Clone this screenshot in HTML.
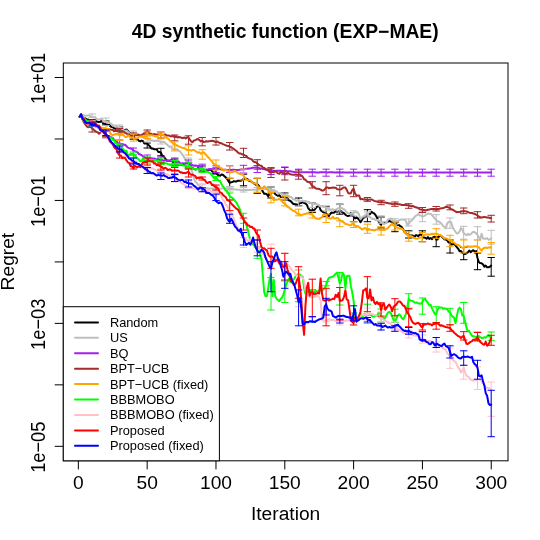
<!DOCTYPE html>
<html><head><meta charset="utf-8"><title>4D synthetic function (EXP-MAE)</title>
<style>
html,body{margin:0;padding:0;background:#fff;}
body{width:540px;height:540px;overflow:hidden;position:relative;font-family:"Liberation Sans",sans-serif;}
.t{font-family:"Liberation Sans",sans-serif;fill:#000;}
</style></head><body>
<svg width="540" height="540" viewBox="0 0 540 540" style="position:absolute;left:0;top:0;will-change:transform">
<rect x="0" y="0" width="540" height="540" fill="#fff"/>
<clipPath id="c"><rect x="63.3" y="63.0" width="444.7" height="397.8"/></clipPath>
<g clip-path="url(#c)" fill="none" stroke-linejoin="round" stroke-linecap="round">
<path d="M79.7 116.7 L81.1 114.4 L82.5 117.1 L83.9 118.3 L85.2 118.2 L86.6 119.2 L88.0 119.5 L89.4 121.2 L90.7 120.6 L92.1 121.6 L93.5 122.0 L94.9 122.1 L96.2 121.3 L97.6 121.8 L99.0 122.0 L100.4 121.7 L101.7 120.6 L103.1 123.5 L104.5 123.5 L105.9 124.7 L107.3 125.3 L108.6 123.9 L110.0 125.9 L111.4 126.9 L112.8 127.3 L114.1 128.3 L115.5 128.7 L116.9 129.1 L118.3 129.1 L119.6 129.4 L121.0 128.8 L122.4 129.8 L123.8 130.1 L125.1 129.9 L126.5 129.6 L127.9 130.9 L129.3 132.7 L130.6 133.0 L132.0 135.1 L133.4 135.9 L134.8 138.5 L136.2 139.2 L137.5 139.2 L138.9 140.8 L140.3 141.4 L141.7 140.6 L143.0 141.1 L144.4 143.4 L145.8 143.6 L147.2 143.5 L148.5 145.1 L149.9 146.3 L151.3 148.5 L152.7 148.5 L154.0 149.2 L155.4 149.2 L156.8 149.2 L158.2 151.9 L159.6 152.0 L160.9 152.7 L162.3 156.0 L163.7 156.7 L165.1 158.3 L166.4 160.6 L167.8 160.4 L169.2 160.9 L170.6 160.3 L171.9 160.5 L173.3 162.4 L174.7 162.1 L176.1 163.3 L177.4 163.4 L178.8 164.5 L180.2 164.2 L181.6 165.0 L182.9 164.3 L184.3 165.1 L185.7 165.6 L187.1 166.5 L188.5 167.4 L189.8 166.3 L191.2 168.0 L192.6 168.1 L194.0 168.8 L195.3 169.4 L196.7 169.3 L198.1 168.1 L199.5 168.8 L200.8 169.3 L202.2 170.2 L203.6 170.4 L205.0 170.4 L206.3 169.8 L207.7 170.0 L209.1 169.8 L210.5 169.8 L211.9 170.7 L213.2 173.1 L214.6 172.5 L216.0 172.7 L217.4 174.4 L218.7 175.8 L220.1 175.7 L221.5 174.5 L222.9 174.7 L224.2 176.0 L225.6 177.2 L227.0 178.7 L228.4 181.1 L229.7 183.0 L231.1 182.2 L232.5 182.0 L233.9 181.1 L235.2 181.6 L236.6 181.4 L238.0 180.7 L239.4 180.7 L240.8 180.8 L242.1 180.0 L243.5 179.0 L244.9 179.0 L246.3 178.8 L247.6 179.3 L249.0 180.8 L250.4 180.9 L251.8 182.1 L253.1 182.8 L254.5 183.6 L255.9 184.7 L257.3 184.2 L258.6 185.4 L260.0 188.0 L261.4 189.4 L262.8 191.4 L264.2 193.8 L265.5 193.7 L266.9 194.4 L268.3 196.4 L269.7 193.0 L271.0 193.1 L272.4 192.0 L273.8 192.2 L275.2 193.9 L276.5 195.0 L277.9 195.8 L279.3 195.1 L280.7 196.9 L282.0 196.7 L283.4 196.2 L284.8 197.7 L286.2 197.5 L287.5 198.1 L288.9 200.6 L290.3 200.8 L291.7 202.2 L293.1 203.7 L294.4 204.2 L295.8 204.3 L297.2 204.8 L298.6 204.4 L299.9 203.1 L301.3 203.0 L302.7 201.9 L304.1 203.0 L305.4 203.4 L306.8 204.7 L308.2 208.1 L309.6 209.9 L310.9 210.8 L312.3 210.0 L313.7 210.3 L315.1 209.2 L316.4 207.3 L317.8 206.3 L319.2 205.8 L320.6 210.3 L322.0 211.3 L323.3 212.1 L324.7 213.0 L326.1 214.0 L327.5 214.4 L328.8 215.7 L330.2 214.0 L331.6 212.5 L333.0 212.9 L334.3 212.5 L335.7 211.0 L337.1 211.8 L338.5 211.4 L339.8 210.7 L341.2 210.9 L342.6 212.6 L344.0 213.1 L345.4 214.7 L346.7 215.6 L348.1 216.0 L349.5 215.6 L350.9 215.6 L352.2 215.4 L353.6 216.6 L355.0 218.4 L356.4 217.2 L357.7 218.3 L359.1 219.8 L360.5 222.2 L361.9 220.0 L363.2 217.5 L364.6 217.4 L366.0 216.5 L367.4 216.3 L368.7 214.7 L370.1 214.0 L371.5 211.7 L372.9 212.8 L374.3 213.5 L375.6 215.2 L377.0 217.5 L378.4 220.9 L379.8 223.6 L381.1 224.4 L382.5 222.8 L383.9 222.7 L385.3 222.7 L386.6 222.4 L388.0 221.5 L389.4 221.0 L390.8 221.6 L392.1 222.2 L393.5 222.5 L394.9 223.9 L396.3 224.0 L397.7 225.0 L399.0 225.1 L400.4 226.2 L401.8 227.1 L403.2 229.6 L404.5 231.9 L405.9 233.3 L407.3 234.4 L408.7 235.2 L410.0 235.4 L411.4 235.6 L412.8 235.6 L414.2 237.7 L415.5 235.3 L416.9 235.3 L418.3 236.1 L419.7 234.6 L421.0 234.7 L422.4 235.5 L423.8 237.6 L425.2 237.7 L426.6 238.8 L427.9 237.1 L429.3 238.9 L430.7 238.0 L432.1 239.2 L433.4 237.6 L434.8 236.7 L436.2 239.6 L437.6 239.5 L438.9 236.2 L440.3 235.4 L441.7 236.6 L443.1 237.9 L444.4 239.2 L445.8 239.6 L447.2 240.4 L448.6 242.4 L450.0 242.6 L451.3 244.4 L452.7 244.2 L454.1 244.1 L455.5 245.3 L456.8 247.1 L458.2 248.8 L459.6 251.3 L461.0 251.0 L462.3 252.8 L463.7 253.8 L465.1 254.1 L466.5 253.1 L467.8 252.3 L469.2 250.5 L470.6 252.2 L472.0 251.0 L473.3 250.2 L474.7 251.6 L476.1 251.1 L477.5 258.0 L478.9 262.2 L480.2 263.1 L481.6 263.2 L483.0 264.4 L484.4 266.6 L485.7 265.6 L487.1 267.3 L488.5 267.3 L489.9 266.8 L491.2 265.6" stroke="#000000" stroke-width="2.00"/>
<path d="M160.9 148.3 V155.8 M157.6 148.3 H164.2 M157.6 155.8 H164.2 M229.7 178.3 V186.7 M226.4 178.3 H233.0 M226.4 186.7 H233.0 M243.5 174.2 V185.8 M240.2 174.2 H246.8 M240.2 185.8 H246.8 M257.3 178.3 V193.3 M254.0 178.3 H260.6 M254.0 193.3 H260.6 M271.0 187.0 V198.0 M267.7 187.0 H274.3 M267.7 198.0 H274.3 M284.8 193.0 V200.0 M281.5 193.0 H288.1 M281.5 200.0 H288.1 M298.6 198.0 V205.8 M295.3 198.0 H301.9 M295.3 205.8 H301.9 M312.3 203.0 V212.5 M309.0 203.0 H315.6 M309.0 212.5 H315.6 M326.1 206.7 V216.7 M322.8 206.7 H329.4 M322.8 216.7 H329.4 M339.8 204.2 V214.2 M336.5 204.2 H343.1 M336.5 214.2 H343.1 M353.6 212.5 V221.7 M350.3 212.5 H356.9 M350.3 221.7 H356.9 M367.4 209.7 V221.7 M364.1 209.7 H370.7 M364.1 221.7 H370.7 M381.1 217.0 V228.0 M377.8 217.0 H384.4 M377.8 228.0 H384.4 M394.9 222.5 V231.7 M391.6 222.5 H398.2 M391.6 231.7 H398.2 M408.7 230.8 V238.0 M405.4 230.8 H412.0 M405.4 238.0 H412.0 M422.4 230.8 V241.7 M419.1 230.8 H425.7 M419.1 241.7 H425.7 M436.2 236.7 V246.7 M432.9 236.7 H439.5 M432.9 246.7 H439.5 M450.0 240.0 V253.0 M446.7 240.0 H453.3 M446.7 253.0 H453.3 M463.7 247.5 V259.7 M460.4 247.5 H467.0 M460.4 259.7 H467.0 M477.5 253.0 V269.7 M474.2 253.0 H480.8 M474.2 269.7 H480.8 M491.2 257.5 V276.2 M487.9 257.5 H494.5 M487.9 276.2 H494.5 M92.1 119.5 V122.5 M88.8 119.5 H95.4 M88.8 122.5 H95.4 M105.9 121.0 V125.0 M102.6 121.0 H109.2 M102.6 125.0 H109.2 M119.6 127.0 V131.0 M116.3 127.0 H122.9 M116.3 131.0 H122.9 M133.4 134.0 V139.0 M130.1 134.0 H136.7 M130.1 139.0 H136.7 M147.2 143.0 V148.0 M143.9 143.0 H150.5 M143.9 148.0 H150.5 M174.7 159.0 V165.0 M171.4 159.0 H178.0 M171.4 165.0 H178.0 M188.5 163.0 V168.0 M185.2 163.0 H191.8 M185.2 168.0 H191.8 M202.2 166.0 V171.0 M198.9 166.0 H205.5 M198.9 171.0 H205.5 M216.0 168.0 V174.0 M212.7 168.0 H219.3 M212.7 174.0 H219.3" stroke="#000000" stroke-width="1"/>
<path d="M79.7 116.7 L81.1 114.4 L82.5 115.1 L83.9 115.4 L85.2 115.5 L86.6 115.8 L88.0 115.6 L89.4 115.5 L90.7 116.4 L92.1 116.9 L93.5 117.6 L94.9 117.0 L96.2 118.4 L97.6 119.7 L99.0 119.5 L100.4 119.0 L101.7 118.6 L103.1 120.9 L104.5 121.1 L105.9 122.0 L107.3 122.4 L108.6 123.0 L110.0 123.0 L111.4 123.9 L112.8 125.7 L114.1 125.3 L115.5 126.3 L116.9 126.1 L118.3 127.0 L119.6 127.5 L121.0 127.6 L122.4 129.0 L123.8 130.4 L125.1 130.8 L126.5 130.5 L127.9 131.8 L129.3 132.8 L130.6 133.7 L132.0 132.6 L133.4 133.3 L134.8 133.4 L136.2 133.5 L137.5 134.1 L138.9 134.7 L140.3 135.7 L141.7 137.0 L143.0 137.1 L144.4 138.0 L145.8 139.0 L147.2 138.3 L148.5 139.7 L149.9 139.8 L151.3 140.5 L152.7 140.6 L154.0 141.1 L155.4 140.5 L156.8 141.1 L158.2 140.3 L159.6 141.6 L160.9 141.9 L162.3 142.1 L163.7 141.8 L165.1 142.6 L166.4 144.1 L167.8 145.3 L169.2 146.7 L170.6 146.5 L171.9 148.0 L173.3 149.0 L174.7 148.7 L176.1 149.1 L177.4 149.5 L178.8 150.9 L180.2 151.5 L181.6 153.5 L182.9 155.4 L184.3 157.6 L185.7 160.3 L187.1 161.4 L188.5 163.2 L189.8 165.8 L191.2 168.6 L192.6 173.3 L194.0 178.6 L195.3 181.6 L196.7 182.7 L198.1 185.1 L199.5 186.0 L200.8 188.3 L202.2 188.3 L203.6 188.2 L205.0 188.3 L206.3 188.5 L207.7 188.5 L209.1 188.7 L210.5 188.6 L211.9 188.6 L213.2 188.4 L214.6 188.5 L216.0 188.3 L217.4 188.3 L218.7 188.4 L220.1 188.4 L221.5 188.5 L222.9 188.4 L224.2 188.6 L225.6 188.7 L227.0 188.8 L228.4 189.0 L229.7 188.9 L231.1 189.0 L232.5 189.1 L233.9 189.2 L235.2 189.4 L236.6 189.4 L238.0 189.7 L239.4 189.8 L240.8 189.9 L242.1 190.1 L243.5 189.9 L244.9 189.7 L246.3 189.9 L247.6 190.0 L249.0 189.9 L250.4 190.0 L251.8 189.8 L253.1 189.7 L254.5 189.7 L255.9 189.8 L257.3 189.6 L258.6 189.6 L260.0 189.4 L261.4 189.2 L262.8 189.0 L264.2 189.0 L265.5 189.0 L266.9 189.3 L268.3 189.0 L269.7 189.1 L271.0 189.4 L272.4 190.1 L273.8 189.8 L275.2 191.1 L276.5 191.2 L277.9 192.7 L279.3 193.3 L280.7 193.0 L282.0 194.2 L283.4 195.2 L284.8 195.3 L286.2 195.0 L287.5 196.2 L288.9 196.1 L290.3 197.1 L291.7 197.3 L293.1 199.6 L294.4 199.2 L295.8 200.2 L297.2 200.4 L298.6 199.8 L299.9 201.5 L301.3 201.1 L302.7 200.5 L304.1 201.4 L305.4 200.8 L306.8 201.6 L308.2 201.9 L309.6 202.3 L310.9 202.9 L312.3 204.1 L313.7 203.9 L315.1 204.3 L316.4 204.0 L317.8 204.5 L319.2 205.6 L320.6 206.5 L322.0 206.0 L323.3 206.6 L324.7 207.2 L326.1 207.8 L327.5 208.5 L328.8 208.5 L330.2 209.9 L331.6 209.6 L333.0 209.3 L334.3 210.0 L335.7 209.6 L337.1 208.9 L338.5 208.2 L339.8 209.0 L341.2 207.9 L342.6 208.5 L344.0 209.3 L345.4 210.6 L346.7 212.4 L348.1 213.1 L349.5 213.5 L350.9 213.8 L352.2 212.9 L353.6 212.8 L355.0 211.8 L356.4 212.6 L357.7 212.1 L359.1 214.7 L360.5 219.2 L361.9 217.6 L363.2 216.5 L364.6 215.8 L366.0 214.4 L367.4 213.0 L368.7 215.6 L370.1 217.1 L371.5 218.5 L372.9 219.0 L374.3 218.8 L375.6 220.2 L377.0 219.9 L378.4 220.0 L379.8 221.6 L381.1 221.8 L382.5 222.4 L383.9 224.0 L385.3 223.4 L386.6 222.5 L388.0 219.4 L389.4 219.1 L390.8 218.5 L392.1 219.2 L393.5 221.3 L394.9 221.9 L396.3 220.9 L397.7 221.6 L399.0 220.4 L400.4 219.6 L401.8 219.5 L403.2 219.6 L404.5 219.4 L405.9 220.9 L407.3 224.9 L408.7 223.6 L410.0 221.7 L411.4 220.8 L412.8 219.4 L414.2 217.5 L415.5 215.9 L416.9 215.4 L418.3 213.9 L419.7 215.5 L421.0 215.5 L422.4 216.8 L423.8 216.2 L425.2 215.3 L426.6 214.3 L427.9 213.6 L429.3 213.7 L430.7 214.0 L432.1 215.2 L433.4 216.8 L434.8 218.5 L436.2 219.9 L437.6 221.2 L438.9 221.7 L440.3 222.5 L441.7 224.0 L443.1 226.0 L444.4 227.0 L445.8 228.4 L447.2 223.2 L448.6 222.0 L450.0 221.5 L451.3 222.6 L452.7 227.4 L454.1 229.7 L455.5 231.7 L456.8 233.5 L458.2 233.1 L459.6 231.3 L461.0 228.1 L462.3 229.4 L463.7 233.1 L465.1 234.2 L466.5 235.3 L467.8 233.8 L469.2 234.9 L470.6 234.4 L472.0 232.8 L473.3 231.8 L474.7 232.3 L476.1 233.1 L477.5 235.1 L478.9 237.4 L480.2 239.1 L481.6 233.8 L483.0 238.5 L484.4 238.7 L485.7 238.8 L487.1 238.1 L488.5 239.7 L489.9 239.6 L491.2 238.3" stroke="#bebebe" stroke-width="2.00"/>
<path d="M92.1 114.0 V117.5 M88.8 114.0 H95.4 M88.8 117.5 H95.4 M105.9 118.0 V122.0 M102.6 118.0 H109.2 M102.6 122.0 H109.2 M119.6 125.0 V129.0 M116.3 125.0 H122.9 M116.3 129.0 H122.9 M133.4 131.0 V135.0 M130.1 131.0 H136.7 M130.1 135.0 H136.7 M147.2 137.0 V142.0 M143.9 137.0 H150.5 M143.9 142.0 H150.5 M160.9 139.0 V144.0 M157.6 139.0 H164.2 M157.6 144.0 H164.2 M174.7 146.0 V151.0 M171.4 146.0 H178.0 M171.4 151.0 H178.0 M188.5 158.0 V166.0 M185.2 158.0 H191.8 M185.2 166.0 H191.8 M202.2 184.0 V189.0 M198.9 184.0 H205.5 M198.9 189.0 H205.5 M216.0 186.0 V191.0 M212.7 186.0 H219.3 M212.7 191.0 H219.3 M229.7 186.5 V191.0 M226.4 186.5 H233.0 M226.4 191.0 H233.0 M243.5 187.5 V192.0 M240.2 187.5 H246.8 M240.2 192.0 H246.8 M257.3 187.5 V192.0 M254.0 187.5 H260.6 M254.0 192.0 H260.6 M271.0 187.0 V191.5 M267.7 187.0 H274.3 M267.7 191.5 H274.3 M284.8 194.0 V199.0 M281.5 194.0 H288.1 M281.5 199.0 H288.1 M298.6 201.0 V206.0 M295.3 201.0 H301.9 M295.3 206.0 H301.9 M312.3 203.0 V207.5 M309.0 203.0 H315.6 M309.0 207.5 H315.6 M326.1 205.8 V210.8 M322.8 205.8 H329.4 M322.8 210.8 H329.4 M339.8 204.7 V211.0 M336.5 204.7 H343.1 M336.5 211.0 H343.1 M353.6 210.8 V215.8 M350.3 210.8 H356.9 M350.3 215.8 H356.9 M367.4 212.0 V217.0 M364.1 212.0 H370.7 M364.1 217.0 H370.7 M381.1 215.8 V223.3 M377.8 215.8 H384.4 M377.8 223.3 H384.4 M394.9 218.7 V224.2 M391.6 218.7 H398.2 M391.6 224.2 H398.2 M408.7 219.0 V226.0 M405.4 219.0 H412.0 M405.4 226.0 H412.0 M422.4 211.7 V221.7 M419.1 211.7 H425.7 M419.1 221.7 H425.7 M436.2 214.7 V224.2 M432.9 214.7 H439.5 M432.9 224.2 H439.5 M450.0 218.0 V228.3 M446.7 218.0 H453.3 M446.7 228.3 H453.3 M463.7 226.3 V239.2 M460.4 226.3 H467.0 M460.4 239.2 H467.0 M477.5 226.7 V240.0 M474.2 226.7 H480.8 M474.2 240.0 H480.8 M491.2 230.3 V244.2 M487.9 230.3 H494.5 M487.9 244.2 H494.5" stroke="#bebebe" stroke-width="1"/>
<path d="M79.7 116.7 L81.1 114.4 L82.5 117.5 L83.9 118.4 L85.2 119.9 L86.6 120.4 L88.0 121.3 L89.4 121.9 L90.7 121.4 L92.1 121.3 L93.5 122.0 L94.9 122.2 L96.2 124.7 L97.6 126.4 L99.0 127.8 L100.4 129.2 L101.7 130.8 L103.1 132.3 L104.5 132.8 L105.9 134.3 L107.3 136.2 L108.6 135.9 L110.0 137.3 L111.4 137.3 L112.8 138.0 L114.1 139.9 L115.5 140.9 L116.9 141.9 L118.3 143.8 L119.6 143.5 L121.0 144.0 L122.4 143.9 L123.8 144.8 L125.1 144.8 L126.5 146.2 L127.9 147.6 L129.3 148.1 L130.6 148.5 L132.0 149.1 L133.4 150.7 L134.8 151.2 L136.2 151.6 L137.5 152.4 L138.9 154.0 L140.3 154.5 L141.7 155.1 L143.0 156.5 L144.4 156.7 L145.8 157.9 L147.2 158.2 L148.5 158.5 L149.9 157.5 L151.3 158.4 L152.7 158.6 L154.0 158.5 L155.4 159.0 L156.8 159.3 L158.2 158.7 L159.6 159.8 L160.9 160.1 L162.3 160.0 L163.7 160.9 L165.1 160.1 L166.4 160.4 L167.8 160.9 L169.2 160.7 L170.6 160.8 L171.9 160.5 L173.3 161.0 L174.7 161.8 L176.1 162.0 L177.4 162.8 L178.8 161.6 L180.2 163.3 L181.6 163.4 L182.9 163.3 L184.3 163.5 L185.7 163.6 L187.1 163.1 L188.5 163.9 L189.8 164.5 L191.2 165.2 L192.6 165.0 L194.0 165.8 L195.3 165.6 L196.7 165.8 L198.1 166.0 L199.5 166.1 L200.8 167.9 L202.2 168.6 L203.6 169.4 L205.0 169.9 L206.3 169.8 L207.7 169.6 L209.1 169.3 L210.5 169.1 L211.9 169.2 L213.2 169.3 L214.6 169.1 L216.0 169.2 L217.4 169.1 L218.7 169.1 L220.1 169.1 L221.5 169.4 L222.9 169.7 L224.2 169.8 L225.6 169.8 L227.0 170.0 L228.4 169.9 L229.7 169.7 L231.1 169.9 L232.5 169.8 L233.9 169.8 L235.2 169.9 L236.6 169.9 L238.0 169.9 L239.4 169.8 L240.8 169.6 L242.1 169.6 L243.5 169.4 L244.9 169.2 L246.3 168.8 L247.6 168.7 L249.0 168.4 L250.4 168.4 L251.8 168.0 L253.1 167.7 L254.5 167.5 L255.9 167.4 L257.3 167.4 L258.6 167.8 L260.0 168.4 L261.4 168.6 L262.8 168.9 L264.2 169.3 L265.5 169.6 L266.9 169.9 L268.3 169.9 L269.7 170.0 L271.0 170.1 L272.4 170.4 L273.8 170.7 L275.2 170.9 L276.5 170.8 L277.9 170.8 L279.3 170.7 L280.7 170.8 L282.0 170.9 L283.4 171.1 L284.8 171.0 L286.2 171.1 L287.5 171.2 L288.9 171.3 L290.3 171.2 L291.7 171.5 L293.1 171.8 L294.4 172.0 L295.8 172.3 L297.2 172.2 L298.6 172.2 L299.9 172.3 L301.3 172.2 L302.7 172.2 L304.1 172.2 L305.4 172.2 L306.8 172.2 L308.2 172.2 L309.6 172.3 L310.9 172.2 L312.3 172.3 L313.7 172.3 L315.1 172.2 L316.4 172.4 L317.8 172.4 L319.2 172.5 L320.6 172.2 L322.0 172.3 L323.3 172.2 L324.7 172.3 L326.1 172.2 L327.5 172.4 L328.8 172.3 L330.2 172.3 L331.6 172.3 L333.0 172.3 L334.3 172.4 L335.7 172.4 L337.1 172.3 L338.5 172.4 L339.8 172.3 L341.2 172.4 L342.6 172.3 L344.0 172.5 L345.4 172.5 L346.7 172.4 L348.1 172.5 L349.5 172.6 L350.9 172.5 L352.2 172.4 L353.6 172.4 L355.0 172.5 L356.4 172.4 L357.7 172.4 L359.1 172.5 L360.5 172.5 L361.9 172.5 L363.2 172.5 L364.6 172.5 L366.0 172.5 L367.4 172.5 L368.7 172.5 L370.1 172.5 L371.5 172.6 L372.9 172.6 L374.3 172.5 L375.6 172.5 L377.0 172.5 L378.4 172.5 L379.8 172.5 L381.1 172.5 L382.5 172.4 L383.9 172.5 L385.3 172.6 L386.6 172.5 L388.0 172.5 L389.4 172.5 L390.8 172.6 L392.1 172.5 L393.5 172.5 L394.9 172.5 L396.3 172.5 L397.7 172.5 L399.0 172.4 L400.4 172.5 L401.8 172.6 L403.2 172.5 L404.5 172.5 L405.9 172.5 L407.3 172.5 L408.7 172.5 L410.0 172.5 L411.4 172.4 L412.8 172.4 L414.2 172.5 L415.5 172.4 L416.9 172.4 L418.3 172.5 L419.7 172.4 L421.0 172.4 L422.4 172.5 L423.8 172.5 L425.2 172.6 L426.6 172.6 L427.9 172.5 L429.3 172.6 L430.7 172.6 L432.1 172.3 L433.4 172.5 L434.8 172.5 L436.2 172.6 L437.6 172.4 L438.9 172.4 L440.3 172.5 L441.7 172.5 L443.1 172.5 L444.4 172.5 L445.8 172.5 L447.2 172.6 L448.6 172.6 L450.0 172.6 L451.3 172.5 L452.7 172.5 L454.1 172.5 L455.5 172.6 L456.8 172.6 L458.2 172.4 L459.6 172.4 L461.0 172.4 L462.3 172.6 L463.7 172.5 L465.1 172.6 L466.5 172.6 L467.8 172.5 L469.2 172.5 L470.6 172.4 L472.0 172.6 L473.3 172.4 L474.7 172.5 L476.1 172.4 L477.5 172.5 L478.9 172.4 L480.2 172.4 L481.6 172.6 L483.0 172.5 L484.4 172.4 L485.7 172.5 L487.1 172.5 L488.5 172.4 L489.9 172.5 L491.2 172.5" stroke="#a020f0" stroke-width="2.00"/>
<path d="M92.1 120.0 V123.5 M88.8 120.0 H95.4 M88.8 123.5 H95.4 M105.9 131.0 V138.3 M102.6 131.0 H109.2 M102.6 138.3 H109.2 M119.6 140.0 V147.0 M116.3 140.0 H122.9 M116.3 147.0 H122.9 M133.4 148.0 V155.0 M130.1 148.0 H136.7 M130.1 155.0 H136.7 M147.2 155.0 V161.0 M143.9 155.0 H150.5 M143.9 161.0 H150.5 M160.9 157.0 V163.0 M157.6 157.0 H164.2 M157.6 163.0 H164.2 M174.7 158.0 V164.5 M171.4 158.0 H178.0 M171.4 164.5 H178.0 M188.5 160.0 V167.0 M185.2 160.0 H191.8 M185.2 167.0 H191.8 M202.2 164.2 V170.8 M198.9 164.2 H205.5 M198.9 170.8 H205.5 M216.0 165.8 V172.5 M212.7 165.8 H219.3 M212.7 172.5 H219.3 M229.7 165.8 V172.5 M226.4 165.8 H233.0 M226.4 172.5 H233.0 M243.5 165.3 V173.0 M240.2 165.3 H246.8 M240.2 173.0 H246.8 M257.3 165.5 V172.5 M254.0 165.5 H260.6 M254.0 172.5 H260.6 M271.0 167.5 V174.5 M267.7 167.5 H274.3 M267.7 174.5 H274.3 M284.8 167.0 V174.7 M281.5 167.0 H288.1 M281.5 174.7 H288.1 M298.6 169.2 V176.2 M295.3 169.2 H301.9 M295.3 176.2 H301.9 M312.3 169.2 V176.2 M309.0 169.2 H315.6 M309.0 176.2 H315.6 M326.1 169.2 V176.2 M322.8 169.2 H329.4 M322.8 176.2 H329.4 M339.8 169.2 V176.2 M336.5 169.2 H343.1 M336.5 176.2 H343.1 M353.6 169.2 V176.2 M350.3 169.2 H356.9 M350.3 176.2 H356.9 M367.4 169.2 V176.2 M364.1 169.2 H370.7 M364.1 176.2 H370.7 M381.1 169.2 V176.2 M377.8 169.2 H384.4 M377.8 176.2 H384.4 M394.9 169.2 V176.2 M391.6 169.2 H398.2 M391.6 176.2 H398.2 M408.7 169.2 V176.2 M405.4 169.2 H412.0 M405.4 176.2 H412.0 M422.4 169.2 V176.2 M419.1 169.2 H425.7 M419.1 176.2 H425.7 M436.2 169.2 V176.2 M432.9 169.2 H439.5 M432.9 176.2 H439.5 M450.0 169.2 V176.2 M446.7 169.2 H453.3 M446.7 176.2 H453.3 M463.7 169.2 V176.2 M460.4 169.2 H467.0 M460.4 176.2 H467.0 M477.5 169.2 V176.2 M474.2 169.2 H480.8 M474.2 176.2 H480.8 M491.2 169.2 V176.2 M487.9 169.2 H494.5 M487.9 176.2 H494.5" stroke="#a020f0" stroke-width="1"/>
<path d="M79.7 116.7 L81.1 114.4 L82.5 119.0 L83.9 122.4 L85.2 124.1 L86.6 126.1 L88.0 127.2 L89.4 126.8 L90.7 127.1 L92.1 128.3 L93.5 129.5 L94.9 130.9 L96.2 131.8 L97.6 132.2 L99.0 133.7 L100.4 132.4 L101.7 131.1 L103.1 130.8 L104.5 130.1 L105.9 129.2 L107.3 128.9 L108.6 129.3 L110.0 129.4 L111.4 129.7 L112.8 129.9 L114.1 131.3 L115.5 131.1 L116.9 130.9 L118.3 131.7 L119.6 131.7 L121.0 132.2 L122.4 131.5 L123.8 131.7 L125.1 132.9 L126.5 133.5 L127.9 134.4 L129.3 134.4 L130.6 136.2 L132.0 135.8 L133.4 135.8 L134.8 135.3 L136.2 135.0 L137.5 135.3 L138.9 134.8 L140.3 135.4 L141.7 134.9 L143.0 134.1 L144.4 133.0 L145.8 132.1 L147.2 131.3 L148.5 131.9 L149.9 133.9 L151.3 133.8 L152.7 134.9 L154.0 134.0 L155.4 134.5 L156.8 134.5 L158.2 134.6 L159.6 134.5 L160.9 134.7 L162.3 134.9 L163.7 134.7 L165.1 134.4 L166.4 135.4 L167.8 135.6 L169.2 135.6 L170.6 136.3 L171.9 136.2 L173.3 135.9 L174.7 137.2 L176.1 136.3 L177.4 137.4 L178.8 137.1 L180.2 137.2 L181.6 137.9 L182.9 138.1 L184.3 137.5 L185.7 138.4 L187.1 137.2 L188.5 137.4 L189.8 139.6 L191.2 141.5 L192.6 142.2 L194.0 140.4 L195.3 140.3 L196.7 139.3 L198.1 139.1 L199.5 140.1 L200.8 141.4 L202.2 140.9 L203.6 141.9 L205.0 141.8 L206.3 141.3 L207.7 141.6 L209.1 141.2 L210.5 141.1 L211.9 140.7 L213.2 140.9 L214.6 141.7 L216.0 141.9 L217.4 141.6 L218.7 142.4 L220.1 143.1 L221.5 143.3 L222.9 144.1 L224.2 144.7 L225.6 145.3 L227.0 145.7 L228.4 146.0 L229.7 146.7 L231.1 147.1 L232.5 148.2 L233.9 149.0 L235.2 150.1 L236.6 151.0 L238.0 152.6 L239.4 153.5 L240.8 153.5 L242.1 154.3 L243.5 154.7 L244.9 155.4 L246.3 156.0 L247.6 157.6 L249.0 158.3 L250.4 158.9 L251.8 159.4 L253.1 161.3 L254.5 162.1 L255.9 162.3 L257.3 163.6 L258.6 164.6 L260.0 165.5 L261.4 165.7 L262.8 167.5 L264.2 167.9 L265.5 168.8 L266.9 169.5 L268.3 170.7 L269.7 172.4 L271.0 171.8 L272.4 172.0 L273.8 172.3 L275.2 171.1 L276.5 172.0 L277.9 173.4 L279.3 173.8 L280.7 171.9 L282.0 172.8 L283.4 173.2 L284.8 174.0 L286.2 173.6 L287.5 172.7 L288.9 173.5 L290.3 174.3 L291.7 174.6 L293.1 174.8 L294.4 174.8 L295.8 174.4 L297.2 174.9 L298.6 174.8 L299.9 174.4 L301.3 175.6 L302.7 176.6 L304.1 179.2 L305.4 179.7 L306.8 181.3 L308.2 182.0 L309.6 182.2 L310.9 183.8 L312.3 186.3 L313.7 186.6 L315.1 187.7 L316.4 188.8 L317.8 188.7 L319.2 189.0 L320.6 189.6 L322.0 190.6 L323.3 190.6 L324.7 189.4 L326.1 187.6 L327.5 187.4 L328.8 188.3 L330.2 187.9 L331.6 187.7 L333.0 187.6 L334.3 187.7 L335.7 187.8 L337.1 189.1 L338.5 189.5 L339.8 189.4 L341.2 189.2 L342.6 188.1 L344.0 187.4 L345.4 187.6 L346.7 189.7 L348.1 192.8 L349.5 193.5 L350.9 193.2 L352.2 190.2 L353.6 188.6 L355.0 193.6 L356.4 195.4 L357.7 195.5 L359.1 195.4 L360.5 199.3 L361.9 198.9 L363.2 199.4 L364.6 199.2 L366.0 199.5 L367.4 200.0 L368.7 199.7 L370.1 199.4 L371.5 199.4 L372.9 200.2 L374.3 200.9 L375.6 201.2 L377.0 201.6 L378.4 202.0 L379.8 202.4 L381.1 202.1 L382.5 202.1 L383.9 202.6 L385.3 202.5 L386.6 202.9 L388.0 203.1 L389.4 203.5 L390.8 203.6 L392.1 204.0 L393.5 204.3 L394.9 203.6 L396.3 203.7 L397.7 204.0 L399.0 204.2 L400.4 204.4 L401.8 205.1 L403.2 205.1 L404.5 204.8 L405.9 204.9 L407.3 205.2 L408.7 205.6 L410.0 205.8 L411.4 206.2 L412.8 206.0 L414.2 206.6 L415.5 207.3 L416.9 207.5 L418.3 208.2 L419.7 209.2 L421.0 209.5 L422.4 209.8 L423.8 210.0 L425.2 210.2 L426.6 210.2 L427.9 209.8 L429.3 209.5 L430.7 209.1 L432.1 209.0 L433.4 208.9 L434.8 209.0 L436.2 209.2 L437.6 209.0 L438.9 208.9 L440.3 208.5 L441.7 208.2 L443.1 208.0 L444.4 207.6 L445.8 206.8 L447.2 206.9 L448.6 207.4 L450.0 208.3 L451.3 209.1 L452.7 209.7 L454.1 210.6 L455.5 211.5 L456.8 212.2 L458.2 212.1 L459.6 212.0 L461.0 211.5 L462.3 211.2 L463.7 210.9 L465.1 211.3 L466.5 211.4 L467.8 212.0 L469.2 212.6 L470.6 213.0 L472.0 212.9 L473.3 213.6 L474.7 213.9 L476.1 214.6 L477.5 215.5 L478.9 216.6 L480.2 217.3 L481.6 217.5 L483.0 217.2 L484.4 216.9 L485.7 217.2 L487.1 217.5 L488.5 217.6 L489.9 217.9 L491.2 218.2" stroke="#a52a2a" stroke-width="2.00"/>
<path d="M92.1 126.0 V132.0 M88.8 126.0 H95.4 M88.8 132.0 H95.4 M105.9 130.0 V136.5 M102.6 130.0 H109.2 M102.6 136.5 H109.2 M119.6 128.5 V134.0 M116.3 128.5 H122.9 M116.3 134.0 H122.9 M133.4 133.0 V139.5 M130.1 133.0 H136.7 M130.1 139.5 H136.7 M147.2 130.0 V134.2 M143.9 130.0 H150.5 M143.9 134.2 H150.5 M160.9 132.0 V138.0 M157.6 132.0 H164.2 M157.6 138.0 H164.2 M174.7 135.0 V140.8 M171.4 135.0 H178.0 M171.4 140.8 H178.0 M188.5 135.8 V144.2 M185.2 135.8 H191.8 M185.2 144.2 H191.8 M202.2 137.5 V145.8 M198.9 137.5 H205.5 M198.9 145.8 H205.5 M216.0 137.5 V145.0 M212.7 137.5 H219.3 M212.7 145.0 H219.3 M229.7 142.5 V150.0 M226.4 142.5 H233.0 M226.4 150.0 H233.0 M243.5 148.3 V157.5 M240.2 148.3 H246.8 M240.2 157.5 H246.8 M257.3 159.7 V169.2 M254.0 159.7 H260.6 M254.0 169.2 H260.6 M271.0 168.3 V177.5 M267.7 168.3 H274.3 M267.7 177.5 H274.3 M284.8 167.5 V180.0 M281.5 167.5 H288.1 M281.5 180.0 H288.1 M298.6 170.0 V179.2 M295.3 170.0 H301.9 M295.3 179.2 H301.9 M312.3 181.7 V188.0 M309.0 181.7 H315.6 M309.0 188.0 H315.6 M326.1 181.7 V194.7 M322.8 181.7 H329.4 M322.8 194.7 H329.4 M339.8 185.3 V195.8 M336.5 185.3 H343.1 M336.5 195.8 H343.1 M353.6 185.3 V196.7 M350.3 185.3 H356.9 M350.3 196.7 H356.9 M367.4 197.5 V201.3 M364.1 197.5 H370.7 M364.1 201.3 H370.7 M381.1 200.3 V204.7 M377.8 200.3 H384.4 M377.8 204.7 H384.4 M394.9 202.0 V206.3 M391.6 202.0 H398.2 M391.6 206.3 H398.2 M408.7 203.7 V208.3 M405.4 203.7 H412.0 M405.4 208.3 H412.0 M422.4 207.5 V212.5 M419.1 207.5 H425.7 M419.1 212.5 H425.7 M436.2 206.5 V211.0 M432.9 206.5 H439.5 M432.9 211.0 H439.5 M450.0 205.0 V209.8 M446.7 205.0 H453.3 M446.7 209.8 H453.3 M463.7 208.0 V213.7 M460.4 208.0 H467.0 M460.4 213.7 H467.0 M477.5 211.7 V218.0 M474.2 211.7 H480.8 M474.2 218.0 H480.8 M491.2 215.3 V222.0 M487.9 215.3 H494.5 M487.9 222.0 H494.5" stroke="#a52a2a" stroke-width="1"/>
<path d="M79.7 116.7 L81.1 114.4 L82.5 119.4 L83.9 120.3 L85.2 121.1 L86.6 122.4 L88.0 122.8 L89.4 122.9 L90.7 124.2 L92.1 124.4 L93.5 125.7 L94.9 125.6 L96.2 127.0 L97.6 125.7 L99.0 127.7 L100.4 127.1 L101.7 128.4 L103.1 127.9 L104.5 128.1 L105.9 128.6 L107.3 129.2 L108.6 129.0 L110.0 132.8 L111.4 134.6 L112.8 135.1 L114.1 134.6 L115.5 134.3 L116.9 134.1 L118.3 134.7 L119.6 135.4 L121.0 135.1 L122.4 134.5 L123.8 135.4 L125.1 136.9 L126.5 137.1 L127.9 135.3 L129.3 136.3 L130.6 137.6 L132.0 137.5 L133.4 137.6 L134.8 138.8 L136.2 138.2 L137.5 138.3 L138.9 136.9 L140.3 136.4 L141.7 136.4 L143.0 136.9 L144.4 135.9 L145.8 136.5 L147.2 135.5 L148.5 135.2 L149.9 135.2 L151.3 135.2 L152.7 135.5 L154.0 135.9 L155.4 136.5 L156.8 136.5 L158.2 135.9 L159.6 134.5 L160.9 134.7 L162.3 134.4 L163.7 135.4 L165.1 136.8 L166.4 137.8 L167.8 138.4 L169.2 139.8 L170.6 141.5 L171.9 141.9 L173.3 143.9 L174.7 143.7 L176.1 144.9 L177.4 145.6 L178.8 146.4 L180.2 146.9 L181.6 147.6 L182.9 148.0 L184.3 147.9 L185.7 149.0 L187.1 150.1 L188.5 150.0 L189.8 150.1 L191.2 150.7 L192.6 150.0 L194.0 150.0 L195.3 151.0 L196.7 151.8 L198.1 152.5 L199.5 152.3 L200.8 153.8 L202.2 152.8 L203.6 152.2 L205.0 153.7 L206.3 155.1 L207.7 156.7 L209.1 158.2 L210.5 160.0 L211.9 161.3 L213.2 163.4 L214.6 164.4 L216.0 164.9 L217.4 165.8 L218.7 166.1 L220.1 167.8 L221.5 168.2 L222.9 170.5 L224.2 170.6 L225.6 169.6 L227.0 170.6 L228.4 171.1 L229.7 172.1 L231.1 172.3 L232.5 171.9 L233.9 171.3 L235.2 171.1 L236.6 171.9 L238.0 173.1 L239.4 173.6 L240.8 174.3 L242.1 174.1 L243.5 175.5 L244.9 177.7 L246.3 179.3 L247.6 179.9 L249.0 180.4 L250.4 180.0 L251.8 181.9 L253.1 183.1 L254.5 183.6 L255.9 183.5 L257.3 185.2 L258.6 188.0 L260.0 187.3 L261.4 188.0 L262.8 187.9 L264.2 186.3 L265.5 187.3 L266.9 189.2 L268.3 190.2 L269.7 192.2 L271.0 194.8 L272.4 198.0 L273.8 200.4 L275.2 199.5 L276.5 199.7 L277.9 199.5 L279.3 198.7 L280.7 199.9 L282.0 201.4 L283.4 203.1 L284.8 203.3 L286.2 205.3 L287.5 206.9 L288.9 207.3 L290.3 208.8 L291.7 209.5 L293.1 210.9 L294.4 210.8 L295.8 212.2 L297.2 213.8 L298.6 213.8 L299.9 214.5 L301.3 215.3 L302.7 214.7 L304.1 214.1 L305.4 214.0 L306.8 213.2 L308.2 213.5 L309.6 213.8 L310.9 214.0 L312.3 214.6 L313.7 216.2 L315.1 217.8 L316.4 218.8 L317.8 218.6 L319.2 219.0 L320.6 217.9 L322.0 217.3 L323.3 215.1 L324.7 214.3 L326.1 215.4 L327.5 217.6 L328.8 218.2 L330.2 218.6 L331.6 218.3 L333.0 216.7 L334.3 218.6 L335.7 218.6 L337.1 217.9 L338.5 218.6 L339.8 220.1 L341.2 221.3 L342.6 221.7 L344.0 222.6 L345.4 223.9 L346.7 224.1 L348.1 224.7 L349.5 225.3 L350.9 225.3 L352.2 224.1 L353.6 223.1 L355.0 225.8 L356.4 226.0 L357.7 226.0 L359.1 227.1 L360.5 228.1 L361.9 229.5 L363.2 229.0 L364.6 228.0 L366.0 228.4 L367.4 230.5 L368.7 229.0 L370.1 229.6 L371.5 230.0 L372.9 230.0 L374.3 230.5 L375.6 229.8 L377.0 229.4 L378.4 229.6 L379.8 229.7 L381.1 230.0 L382.5 229.3 L383.9 230.2 L385.3 229.5 L386.6 228.9 L388.0 228.0 L389.4 226.3 L390.8 225.1 L392.1 224.0 L393.5 225.5 L394.9 226.4 L396.3 227.1 L397.7 228.0 L399.0 228.2 L400.4 228.8 L401.8 228.5 L403.2 230.0 L404.5 231.4 L405.9 233.8 L407.3 234.5 L408.7 236.7 L410.0 236.0 L411.4 236.2 L412.8 237.1 L414.2 238.0 L415.5 238.4 L416.9 238.7 L418.3 238.2 L419.7 237.7 L421.0 237.4 L422.4 236.5 L423.8 235.0 L425.2 234.8 L426.6 234.4 L427.9 234.4 L429.3 234.6 L430.7 234.3 L432.1 233.8 L433.4 234.0 L434.8 233.6 L436.2 234.1 L437.6 234.0 L438.9 235.0 L440.3 234.8 L441.7 236.2 L443.1 237.1 L444.4 238.7 L445.8 238.2 L447.2 238.8 L448.6 240.1 L450.0 240.2 L451.3 239.9 L452.7 242.3 L454.1 242.6 L455.5 244.0 L456.8 244.7 L458.2 244.9 L459.6 245.8 L461.0 246.8 L462.3 247.7 L463.7 248.0 L465.1 246.7 L466.5 246.8 L467.8 246.3 L469.2 246.7 L470.6 246.6 L472.0 246.8 L473.3 246.4 L474.7 246.3 L476.1 246.3 L477.5 246.7 L478.9 247.4 L480.2 249.1 L481.6 250.6 L483.0 248.7 L484.4 247.8 L485.7 247.5 L487.1 248.1 L488.5 247.4 L489.9 247.3 L491.2 247.5" stroke="#ffa500" stroke-width="2.00"/>
<path d="M92.1 121.0 V125.0 M88.8 121.0 H95.4 M88.8 125.0 H95.4 M105.9 125.5 V131.5 M102.6 125.5 H109.2 M102.6 131.5 H109.2 M119.6 133.3 V140.6 M116.3 133.3 H122.9 M116.3 140.6 H122.9 M133.4 134.1 V141.1 M130.1 134.1 H136.7 M130.1 141.1 H136.7 M147.2 132.0 V138.5 M143.9 132.0 H150.5 M143.9 138.5 H150.5 M160.9 131.7 V138.3 M157.6 131.7 H164.2 M157.6 138.3 H164.2 M174.7 141.7 V150.0 M171.4 141.7 H178.0 M171.4 150.0 H178.0 M188.5 145.8 V155.0 M185.2 145.8 H191.8 M185.2 155.0 H191.8 M202.2 149.7 V159.2 M198.9 149.7 H205.5 M198.9 159.2 H205.5 M216.0 160.0 V170.0 M212.7 160.0 H219.3 M212.7 170.0 H219.3 M229.7 165.8 V178.3 M226.4 165.8 H233.0 M226.4 178.3 H233.0 M243.5 169.2 V180.0 M240.2 169.2 H246.8 M240.2 180.0 H246.8 M257.3 178.3 V192.5 M254.0 178.3 H260.6 M254.0 192.5 H260.6 M271.0 192.5 V202.8 M267.7 192.5 H274.3 M267.7 202.8 H274.3 M284.8 196.7 V205.8 M281.5 196.7 H288.1 M281.5 205.8 H288.1 M298.6 209.2 V215.8 M295.3 209.2 H301.9 M295.3 215.8 H301.9 M312.3 211.7 V218.0 M309.0 211.7 H315.6 M309.0 218.0 H315.6 M326.1 214.2 V222.5 M322.8 214.2 H329.4 M322.8 222.5 H329.4 M339.8 220.8 V226.7 M336.5 220.8 H343.1 M336.5 226.7 H343.1 M353.6 221.7 V227.5 M350.3 221.7 H356.9 M350.3 227.5 H356.9 M367.4 224.2 V233.3 M364.1 224.2 H370.7 M364.1 233.3 H370.7 M381.1 226.7 V235.0 M377.8 226.7 H384.4 M377.8 235.0 H384.4 M394.9 222.0 V230.0 M391.6 222.0 H398.2 M391.6 230.0 H398.2 M408.7 231.7 V241.2 M405.4 231.7 H412.0 M405.4 241.2 H412.0 M422.4 232.5 V241.7 M419.1 232.5 H425.7 M419.1 241.7 H425.7 M436.2 228.7 V238.3 M432.9 228.7 H439.5 M432.9 238.3 H439.5 M450.0 235.3 V246.7 M446.7 235.3 H453.3 M446.7 246.7 H453.3 M463.7 240.0 V253.0 M460.4 240.0 H467.0 M460.4 253.0 H467.0 M477.5 240.0 V252.5 M474.2 240.0 H480.8 M474.2 252.5 H480.8 M491.2 242.5 V254.2 M487.9 242.5 H494.5 M487.9 254.2 H494.5" stroke="#ffa500" stroke-width="1"/>
<path d="M79.7 116.7 L81.1 114.4 L82.5 116.9 L83.9 117.7 L85.2 119.5 L86.6 121.0 L88.0 121.3 L89.4 122.8 L90.7 123.2 L92.1 124.8 L93.5 124.6 L94.9 126.5 L96.2 126.2 L97.6 127.4 L99.0 129.0 L100.4 129.6 L101.7 131.3 L103.1 132.4 L104.5 133.2 L105.9 134.9 L107.3 136.7 L108.6 137.8 L110.0 138.0 L111.4 137.6 L112.8 139.9 L114.1 140.2 L115.5 143.0 L116.9 143.9 L118.3 145.1 L119.6 146.1 L121.0 146.6 L122.4 148.4 L123.8 149.9 L125.1 151.0 L126.5 150.8 L127.9 155.3 L129.3 155.4 L130.6 153.5 L132.0 153.9 L133.4 154.1 L134.8 155.5 L136.2 157.1 L137.5 158.5 L138.9 159.5 L140.3 161.3 L141.7 160.8 L143.0 158.5 L144.4 160.1 L145.8 160.6 L147.2 160.6 L148.5 161.3 L149.9 161.0 L151.3 159.8 L152.7 159.9 L154.0 161.1 L155.4 160.1 L156.8 160.9 L158.2 160.9 L159.6 162.3 L160.9 161.8 L162.3 162.7 L163.7 162.5 L165.1 163.3 L166.4 163.2 L167.8 164.2 L169.2 164.2 L170.6 165.2 L171.9 163.6 L173.3 163.9 L174.7 163.7 L176.1 163.7 L177.4 163.7 L178.8 163.8 L180.2 164.5 L181.6 164.4 L182.9 165.5 L184.3 165.5 L185.7 165.9 L187.1 166.9 L188.5 167.2 L189.8 166.4 L191.2 167.3 L192.6 168.8 L194.0 168.7 L195.3 169.7 L196.7 168.8 L198.1 169.2 L199.5 169.9 L200.8 168.5 L202.2 169.6 L203.6 169.2 L205.0 170.2 L206.3 171.8 L207.7 171.8 L209.1 172.7 L210.5 173.3 L211.9 175.1 L213.2 177.0 L214.6 178.6 L216.0 177.6 L217.4 179.2 L218.7 180.5 L220.1 181.0 L221.5 184.0 L222.9 186.4 L224.2 187.8 L225.6 190.6 L227.0 190.9 L228.4 193.7 L229.7 196.3 L231.1 197.1 L232.5 198.0 L233.9 199.4 L235.2 201.2 L236.6 202.8 L238.0 205.6 L239.4 208.2 L240.8 212.3 L242.1 215.7 L243.5 218.3 L244.9 222.2 L246.3 225.0 L247.6 228.9 L249.0 235.3 L250.4 240.2 L251.8 241.6 L253.1 244.7 L254.5 245.4 L255.9 248.0 L257.3 249.7 L258.6 251.7 L260.0 254.2 L261.4 258.4 L262.8 275.1 L264.2 292.3 L265.5 296.2 L266.9 296.1 L268.3 287.9 L269.7 278.5 L271.0 273.7 L272.4 296.1 L273.8 279.9 L275.2 296.0 L276.5 298.6 L277.9 300.0 L279.3 301.1 L280.7 298.7 L282.0 297.8 L283.4 294.3 L284.8 289.8 L286.2 284.2 L287.5 281.6 L288.9 278.9 L290.3 282.0 L291.7 281.5 L293.1 279.6 L294.4 278.7 L295.8 275.7 L297.2 274.4 L298.6 274.5 L299.9 274.6 L301.3 276.3 L302.7 276.6 L304.1 288.2 L305.4 293.5 L306.8 293.0 L308.2 291.3 L309.6 291.7 L310.9 290.6 L312.3 291.4 L313.7 291.2 L315.1 291.3 L316.4 291.0 L317.8 291.6 L319.2 290.9 L320.6 290.1 L322.0 290.7 L323.3 289.8 L324.7 288.1 L326.1 285.7 L327.5 280.6 L328.8 278.0 L330.2 277.4 L331.6 277.1 L333.0 276.5 L334.3 275.4 L335.7 273.7 L337.1 272.6 L338.5 277.7 L339.8 283.6 L341.2 279.8 L342.6 273.1 L344.0 275.1 L345.4 288.3 L346.7 276.2 L348.1 275.7 L349.5 275.8 L350.9 286.4 L352.2 292.3 L353.6 300.7 L355.0 316.0 L356.4 320.1 L357.7 317.5 L359.1 315.6 L360.5 313.4 L361.9 315.9 L363.2 316.0 L364.6 313.7 L366.0 314.8 L367.4 315.1 L368.7 314.7 L370.1 314.3 L371.5 315.5 L372.9 316.6 L374.3 316.6 L375.6 315.7 L377.0 315.8 L378.4 312.8 L379.8 312.9 L381.1 316.0 L382.5 317.7 L383.9 318.4 L385.3 317.8 L386.6 314.9 L388.0 312.6 L389.4 311.8 L390.8 313.2 L392.1 316.3 L393.5 319.7 L394.9 321.9 L396.3 318.8 L397.7 315.5 L399.0 314.4 L400.4 315.4 L401.8 317.9 L403.2 319.2 L404.5 316.9 L405.9 313.9 L407.3 307.0 L408.7 298.7 L410.0 300.4 L411.4 300.8 L412.8 301.0 L414.2 302.2 L415.5 302.7 L416.9 302.5 L418.3 303.4 L419.7 303.5 L421.0 303.8 L422.4 301.7 L423.8 299.4 L425.2 299.1 L426.6 301.4 L427.9 302.8 L429.3 305.4 L430.7 304.8 L432.1 308.6 L433.4 311.1 L434.8 313.9 L436.2 314.5 L437.6 309.6 L438.9 307.7 L440.3 307.6 L441.7 307.4 L443.1 308.9 L444.4 308.2 L445.8 308.8 L447.2 309.3 L448.6 311.5 L450.0 312.2 L451.3 315.2 L452.7 316.6 L454.1 317.6 L455.5 323.2 L456.8 316.3 L458.2 309.6 L459.6 307.6 L461.0 309.4 L462.3 315.5 L463.7 315.9 L465.1 321.8 L466.5 327.9 L467.8 331.3 L469.2 331.1 L470.6 333.7 L472.0 335.6 L473.3 336.3 L474.7 336.6 L476.1 337.1 L477.5 336.1 L478.9 336.1 L480.2 337.3 L481.6 337.9 L483.0 337.9 L484.4 337.2 L485.7 337.8 L487.1 336.2 L488.5 335.1 L489.9 336.8 L491.2 336.3" stroke="#00ff00" stroke-width="2.00"/>
<path d="M92.1 123.5 V126.5 M88.8 123.5 H95.4 M88.8 126.5 H95.4 M105.9 131.0 V137.0 M102.6 131.0 H109.2 M102.6 137.0 H109.2 M119.6 144.0 V150.0 M116.3 144.0 H122.9 M116.3 150.0 H122.9 M133.4 152.0 V158.0 M130.1 152.0 H136.7 M130.1 158.0 H136.7 M147.2 157.0 V163.0 M143.9 157.0 H150.5 M143.9 163.0 H150.5 M160.9 158.0 V164.5 M157.6 158.0 H164.2 M157.6 164.5 H164.2 M174.7 160.5 V166.5 M171.4 160.5 H178.0 M171.4 166.5 H178.0 M188.5 162.0 V169.0 M185.2 162.0 H191.8 M185.2 169.0 H191.8 M202.2 168.0 V172.5 M198.9 168.0 H205.5 M198.9 172.5 H205.5 M216.0 176.5 V180.5 M212.7 176.5 H219.3 M212.7 180.5 H219.3 M229.7 193.0 V200.0 M226.4 193.0 H233.0 M226.4 200.0 H233.0 M243.5 213.3 V223.3 M240.2 213.3 H246.8 M240.2 223.3 H246.8 M257.3 247.0 V258.3 M254.0 247.0 H260.6 M254.0 258.3 H260.6 M271.0 277.5 V310.0 M267.7 277.5 H274.3 M267.7 310.0 H274.3 M284.8 281.0 V302.5 M281.5 281.0 H288.1 M281.5 302.5 H288.1 M298.6 270.0 V301.7 M295.3 270.0 H301.9 M295.3 301.7 H301.9 M312.3 289.5 V292.5 M309.0 289.5 H315.6 M309.0 292.5 H315.6 M326.1 281.5 V285.8 M322.8 281.5 H329.4 M322.8 285.8 H329.4 M339.8 272.5 V305.0 M336.5 272.5 H343.1 M336.5 305.0 H343.1 M353.6 313.0 V321.0 M350.3 313.0 H356.9 M350.3 321.0 H356.9 M367.4 304.2 V323.3 M364.1 304.2 H370.7 M364.1 323.3 H370.7 M381.1 309.0 V322.0 M377.8 309.0 H384.4 M377.8 322.0 H384.4 M394.9 309.2 V322.5 M391.6 309.2 H398.2 M391.6 322.5 H398.2 M408.7 293.7 V309.2 M405.4 293.7 H412.0 M405.4 309.2 H412.0 M422.4 298.0 V314.2 M419.1 298.0 H425.7 M419.1 314.2 H425.7 M436.2 306.7 V323.0 M432.9 306.7 H439.5 M432.9 323.0 H439.5 M450.0 308.3 V325.0 M446.7 308.3 H453.3 M446.7 325.0 H453.3 M463.7 302.5 V323.3 M460.4 302.5 H467.0 M460.4 323.3 H467.0 M477.5 332.0 V340.8 M474.2 332.0 H480.8 M474.2 340.8 H480.8 M491.2 332.0 V340.3 M487.9 332.0 H494.5 M487.9 340.3 H494.5" stroke="#00ff00" stroke-width="1"/>
<path d="M79.7 116.7 L81.1 114.4 L82.5 117.9 L83.9 120.1 L85.2 122.5 L86.6 123.0 L88.0 124.1 L89.4 123.9 L90.7 124.0 L92.1 124.2 L93.5 125.5 L94.9 125.8 L96.2 126.3 L97.6 127.4 L99.0 129.2 L100.4 130.0 L101.7 131.6 L103.1 132.4 L104.5 134.0 L105.9 135.7 L107.3 137.7 L108.6 138.8 L110.0 140.7 L111.4 142.7 L112.8 144.6 L114.1 145.9 L115.5 147.2 L116.9 147.5 L118.3 149.4 L119.6 149.7 L121.0 150.5 L122.4 151.3 L123.8 153.1 L125.1 154.3 L126.5 156.2 L127.9 157.1 L129.3 157.8 L130.6 160.2 L132.0 161.0 L133.4 161.9 L134.8 163.3 L136.2 163.2 L137.5 164.6 L138.9 165.0 L140.3 165.4 L141.7 166.5 L143.0 166.7 L144.4 166.9 L145.8 167.5 L147.2 167.8 L148.5 167.5 L149.9 168.2 L151.3 168.0 L152.7 168.5 L154.0 169.2 L155.4 170.0 L156.8 170.5 L158.2 170.8 L159.6 171.0 L160.9 171.0 L162.3 171.4 L163.7 172.6 L165.1 173.9 L166.4 174.1 L167.8 174.5 L169.2 175.5 L170.6 175.7 L171.9 176.9 L173.3 177.6 L174.7 178.6 L176.1 179.3 L177.4 180.7 L178.8 180.7 L180.2 181.9 L181.6 183.2 L182.9 183.7 L184.3 184.6 L185.7 185.4 L187.1 186.3 L188.5 186.5 L189.8 186.7 L191.2 187.0 L192.6 188.2 L194.0 188.4 L195.3 188.5 L196.7 189.0 L198.1 189.0 L199.5 189.0 L200.8 189.6 L202.2 190.5 L203.6 191.1 L205.0 190.2 L206.3 190.9 L207.7 190.8 L209.1 190.4 L210.5 191.1 L211.9 191.9 L213.2 191.2 L214.6 192.3 L216.0 192.6 L217.4 192.9 L218.7 193.8 L220.1 194.3 L221.5 196.4 L222.9 200.0 L224.2 200.9 L225.6 204.1 L227.0 205.9 L228.4 208.1 L229.7 210.9 L231.1 213.0 L232.5 215.9 L233.9 218.8 L235.2 222.7 L236.6 225.9 L238.0 228.4 L239.4 230.0 L240.8 232.4 L242.1 234.5 L243.5 236.3 L244.9 238.1 L246.3 239.4 L247.6 240.5 L249.0 240.6 L250.4 239.3 L251.8 240.9 L253.1 242.1 L254.5 243.4 L255.9 244.1 L257.3 245.3 L258.6 247.8 L260.0 250.1 L261.4 252.2 L262.8 253.7 L264.2 255.8 L265.5 257.3 L266.9 260.2 L268.3 261.3 L269.7 263.6 L271.0 262.9 L272.4 261.8 L273.8 261.2 L275.2 259.2 L276.5 258.4 L277.9 260.3 L279.3 261.5 L280.7 262.7 L282.0 264.0 L283.4 264.5 L284.8 264.9 L286.2 264.1 L287.5 264.5 L288.9 265.4 L290.3 267.7 L291.7 269.6 L293.1 271.4 L294.4 272.8 L295.8 274.9 L297.2 276.1 L298.6 278.1 L299.9 277.5 L301.3 276.5 L302.7 278.0 L304.1 280.6 L305.4 289.9 L306.8 294.7 L308.2 295.7 L309.6 295.9 L310.9 296.2 L312.3 295.4 L313.7 296.0 L315.1 295.8 L316.4 296.4 L317.8 295.9 L319.2 297.0 L320.6 300.5 L322.0 319.8 L323.3 320.2 L324.7 320.6 L326.1 320.6 L327.5 319.7 L328.8 319.2 L330.2 319.7 L331.6 320.3 L333.0 319.9 L334.3 320.3 L335.7 320.9 L337.1 320.9 L338.5 320.6 L339.8 320.5 L341.2 320.9 L342.6 320.6 L344.0 321.3 L345.4 320.6 L346.7 320.6 L348.1 320.6 L349.5 320.3 L350.9 319.1 L352.2 319.5 L353.6 319.3 L355.0 318.0 L356.4 317.7 L357.7 317.2 L359.1 316.8 L360.5 316.4 L361.9 314.8 L363.2 315.0 L364.6 314.2 L366.0 314.6 L367.4 313.5 L368.7 314.0 L370.1 313.6 L371.5 314.0 L372.9 314.4 L374.3 314.9 L375.6 315.2 L377.0 315.4 L378.4 316.7 L379.8 318.0 L381.1 318.4 L382.5 319.2 L383.9 320.0 L385.3 320.4 L386.6 321.7 L388.0 322.6 L389.4 322.9 L390.8 324.3 L392.1 325.1 L393.5 325.9 L394.9 327.2 L396.3 327.9 L397.7 329.2 L399.0 329.6 L400.4 330.8 L401.8 331.4 L403.2 332.7 L404.5 333.3 L405.9 333.5 L407.3 333.8 L408.7 334.8 L410.0 333.9 L411.4 334.7 L412.8 335.3 L414.2 335.5 L415.5 335.8 L416.9 335.7 L418.3 335.7 L419.7 337.1 L421.0 337.6 L422.4 338.4 L423.8 339.1 L425.2 340.0 L426.6 340.7 L427.9 341.2 L429.3 341.1 L430.7 341.2 L432.1 341.9 L433.4 343.2 L434.8 344.4 L436.2 344.8 L437.6 345.4 L438.9 346.1 L440.3 346.3 L441.7 346.8 L443.1 348.2 L444.4 348.8 L445.8 350.0 L447.2 353.2 L448.6 354.6 L450.0 356.9 L451.3 358.4 L452.7 359.7 L454.1 360.9 L455.5 361.8 L456.8 364.6 L458.2 367.7 L459.6 369.1 L461.0 372.5 L462.3 371.1 L463.7 367.6 L465.1 372.6 L466.5 375.7 L467.8 376.5 L469.2 377.6 L470.6 379.8 L472.0 379.9 L473.3 380.7 L474.7 380.0 L476.1 380.2 L477.5 379.7 L478.9 379.1 L480.2 379.5 L481.6 381.2 L483.0 383.4 L484.4 385.0 L485.7 387.9 L487.1 387.7 L488.5 388.3 L489.9 388.5 L491.2 389.8" stroke="#ffc0cb" stroke-width="2.00"/>
<path d="M92.1 123.0 V126.0 M88.8 123.0 H95.4 M88.8 126.0 H95.4 M105.9 131.0 V138.3 M102.6 131.0 H109.2 M102.6 138.3 H109.2 M119.6 146.0 V153.0 M116.3 146.0 H122.9 M116.3 153.0 H122.9 M133.4 160.0 V167.0 M130.1 160.0 H136.7 M130.1 167.0 H136.7 M147.2 165.0 V171.0 M143.9 165.0 H150.5 M143.9 171.0 H150.5 M160.9 168.5 V175.0 M157.6 168.5 H164.2 M157.6 175.0 H164.2 M174.7 175.0 V182.0 M171.4 175.0 H178.0 M171.4 182.0 H178.0 M188.5 181.0 V188.5 M185.2 181.0 H191.8 M185.2 188.5 H191.8 M202.2 185.0 V192.0 M198.9 185.0 H205.5 M198.9 192.0 H205.5 M216.0 187.0 V195.0 M212.7 187.0 H219.3 M212.7 195.0 H219.3 M229.7 205.0 V216.0 M226.4 205.0 H233.0 M226.4 216.0 H233.0 M243.5 237.5 V247.5 M240.2 237.5 H246.8 M240.2 247.5 H246.8 M257.3 243.0 V252.0 M254.0 243.0 H260.6 M254.0 252.0 H260.6 M271.0 244.2 V262.0 M267.7 244.2 H274.3 M267.7 262.0 H274.3 M284.8 253.3 V275.0 M281.5 253.3 H288.1 M281.5 275.0 H288.1 M298.6 270.0 V306.7 M295.3 270.0 H301.9 M295.3 306.7 H301.9 M312.3 294.5 V297.5 M309.0 294.5 H315.6 M309.0 297.5 H315.6 M326.1 314.0 V322.0 M322.8 314.0 H329.4 M322.8 322.0 H329.4 M339.8 316.0 V325.0 M336.5 316.0 H343.1 M336.5 325.0 H343.1 M353.6 314.0 V324.0 M350.3 314.0 H356.9 M350.3 324.0 H356.9 M367.4 308.0 V320.0 M364.1 308.0 H370.7 M364.1 320.0 H370.7 M381.1 312.0 V322.0 M377.8 312.0 H384.4 M377.8 322.0 H384.4 M394.9 322.0 V330.0 M391.6 322.0 H398.2 M391.6 330.0 H398.2 M408.7 330.0 V338.0 M405.4 330.0 H412.0 M405.4 338.0 H412.0 M422.4 335.0 V343.0 M419.1 335.0 H425.7 M419.1 343.0 H425.7 M436.2 342.0 V352.0 M432.9 342.0 H439.5 M432.9 352.0 H439.5 M450.0 348.0 V368.3 M446.7 348.0 H453.3 M446.7 368.3 H453.3 M463.7 365.0 V379.2 M460.4 365.0 H467.0 M460.4 379.2 H467.0 M477.5 366.7 V389.5 M474.2 366.7 H480.8 M474.2 389.5 H480.8 M491.2 382.0 V416.3 M487.9 382.0 H494.5 M487.9 416.3 H494.5" stroke="#ffc0cb" stroke-width="1"/>
<path d="M79.7 116.7 L81.1 114.4 L82.5 117.8 L83.9 119.1 L85.2 121.5 L86.6 123.1 L88.0 123.4 L89.4 122.9 L90.7 123.3 L92.1 122.5 L93.5 122.8 L94.9 123.8 L96.2 124.2 L97.6 125.9 L99.0 125.6 L100.4 128.0 L101.7 130.4 L103.1 131.7 L104.5 133.5 L105.9 134.5 L107.3 136.1 L108.6 137.9 L110.0 141.7 L111.4 142.8 L112.8 144.4 L114.1 147.2 L115.5 148.4 L116.9 149.8 L118.3 153.6 L119.6 155.4 L121.0 155.6 L122.4 158.2 L123.8 157.5 L125.1 158.0 L126.5 160.4 L127.9 162.3 L129.3 163.1 L130.6 166.1 L132.0 166.3 L133.4 168.5 L134.8 165.8 L136.2 166.6 L137.5 167.3 L138.9 166.0 L140.3 167.1 L141.7 164.7 L143.0 162.2 L144.4 162.2 L145.8 161.7 L147.2 161.9 L148.5 159.9 L149.9 161.1 L151.3 161.5 L152.7 161.3 L154.0 163.6 L155.4 163.3 L156.8 165.2 L158.2 164.9 L159.6 165.9 L160.9 166.8 L162.3 167.2 L163.7 168.8 L165.1 167.7 L166.4 168.3 L167.8 170.1 L169.2 169.5 L170.6 169.5 L171.9 170.8 L173.3 170.6 L174.7 170.1 L176.1 170.7 L177.4 170.4 L178.8 170.9 L180.2 172.4 L181.6 172.3 L182.9 173.1 L184.3 173.1 L185.7 173.2 L187.1 172.4 L188.5 171.7 L189.8 173.8 L191.2 174.8 L192.6 174.5 L194.0 175.5 L195.3 175.9 L196.7 178.4 L198.1 177.6 L199.5 178.1 L200.8 177.5 L202.2 178.0 L203.6 179.4 L205.0 180.3 L206.3 182.3 L207.7 183.0 L209.1 182.1 L210.5 182.1 L211.9 185.0 L213.2 184.6 L214.6 186.5 L216.0 187.1 L217.4 187.9 L218.7 189.8 L220.1 192.6 L221.5 192.7 L222.9 194.9 L224.2 195.9 L225.6 197.1 L227.0 199.6 L228.4 200.8 L229.7 201.1 L231.1 203.6 L232.5 204.8 L233.9 206.2 L235.2 207.6 L236.6 208.9 L238.0 209.5 L239.4 212.2 L240.8 215.0 L242.1 216.9 L243.5 219.7 L244.9 222.0 L246.3 222.9 L247.6 225.2 L249.0 225.5 L250.4 227.1 L251.8 226.7 L253.1 228.4 L254.5 228.5 L255.9 232.4 L257.3 234.5 L258.6 235.3 L260.0 241.4 L261.4 246.7 L262.8 248.7 L264.2 248.2 L265.5 249.7 L266.9 250.2 L268.3 254.7 L269.7 256.7 L271.0 256.5 L272.4 256.5 L273.8 258.5 L275.2 261.2 L276.5 260.1 L277.9 260.3 L279.3 263.4 L280.7 261.5 L282.0 264.7 L283.4 267.1 L284.8 266.2 L286.2 263.3 L287.5 269.8 L288.9 273.1 L290.3 279.6 L291.7 281.6 L293.1 283.8 L294.4 285.2 L295.8 283.3 L297.2 279.6 L298.6 277.2 L299.9 285.7 L301.3 300.1 L302.7 322.0 L304.1 334.8 L305.4 306.9 L306.8 287.8 L308.2 282.8 L309.6 295.6 L310.9 292.5 L312.3 292.3 L313.7 294.1 L315.1 293.7 L316.4 293.7 L317.8 292.9 L319.2 293.5 L320.6 278.6 L322.0 293.6 L323.3 300.0 L324.7 300.6 L326.1 300.2 L327.5 299.5 L328.8 300.6 L330.2 299.7 L331.6 299.5 L333.0 298.6 L334.3 299.2 L335.7 294.7 L337.1 297.0 L338.5 293.0 L339.8 301.0 L341.2 300.6 L342.6 300.2 L344.0 296.9 L345.4 290.3 L346.7 299.4 L348.1 300.1 L349.5 309.7 L350.9 320.6 L352.2 321.9 L353.6 322.8 L355.0 317.4 L356.4 319.5 L357.7 318.3 L359.1 316.0 L360.5 311.5 L361.9 301.8 L363.2 290.5 L364.6 289.9 L366.0 288.4 L367.4 298.2 L368.7 298.3 L370.1 289.5 L371.5 300.4 L372.9 297.4 L374.3 302.5 L375.6 304.0 L377.0 301.9 L378.4 304.2 L379.8 303.5 L381.1 310.0 L382.5 304.4 L383.9 303.7 L385.3 309.8 L386.6 307.9 L388.0 305.8 L389.4 304.6 L390.8 307.0 L392.1 311.3 L393.5 306.7 L394.9 305.6 L396.3 304.7 L397.7 302.1 L399.0 301.4 L400.4 301.8 L401.8 303.6 L403.2 305.8 L404.5 305.8 L405.9 309.2 L407.3 312.7 L408.7 314.4 L410.0 316.7 L411.4 320.0 L412.8 322.6 L414.2 323.5 L415.5 324.0 L416.9 323.2 L418.3 322.8 L419.7 324.2 L421.0 326.3 L422.4 327.6 L423.8 323.9 L425.2 324.5 L426.6 324.1 L427.9 323.5 L429.3 324.2 L430.7 324.3 L432.1 325.4 L433.4 323.9 L434.8 323.9 L436.2 322.8 L437.6 323.6 L438.9 324.3 L440.3 325.8 L441.7 325.3 L443.1 326.0 L444.4 326.5 L445.8 327.0 L447.2 327.3 L448.6 327.7 L450.0 327.7 L451.3 329.8 L452.7 330.8 L454.1 332.7 L455.5 333.8 L456.8 335.0 L458.2 336.1 L459.6 336.7 L461.0 338.0 L462.3 336.7 L463.7 335.9 L465.1 340.0 L466.5 343.8 L467.8 344.0 L469.2 342.9 L470.6 341.8 L472.0 341.2 L473.3 339.8 L474.7 339.5 L476.1 339.3 L477.5 337.0 L478.9 339.7 L480.2 341.9 L481.6 343.1 L483.0 344.3 L484.4 344.7 L485.7 341.6 L487.1 345.8 L488.5 344.4 L489.9 341.4 L491.2 338.1" stroke="#ff0000" stroke-width="2.00"/>
<path d="M92.1 122.0 V125.0 M88.8 122.0 H95.4 M88.8 125.0 H95.4 M105.9 131.0 V137.0 M102.6 131.0 H109.2 M102.6 137.0 H109.2 M119.6 151.7 V158.0 M116.3 151.7 H122.9 M116.3 158.0 H122.9 M133.4 163.0 V169.0 M130.1 163.0 H136.7 M130.1 169.0 H136.7 M147.2 158.0 V165.0 M143.9 158.0 H150.5 M143.9 165.0 H150.5 M160.9 163.0 V170.0 M157.6 163.0 H164.2 M157.6 170.0 H164.2 M174.7 167.5 V174.0 M171.4 167.5 H178.0 M171.4 174.0 H178.0 M188.5 169.0 V177.0 M185.2 169.0 H191.8 M185.2 177.0 H191.8 M202.2 177.0 V180.0 M198.9 177.0 H205.5 M198.9 180.0 H205.5 M216.0 185.0 V190.0 M212.7 185.0 H219.3 M212.7 190.0 H219.3 M229.7 200.0 V210.6 M226.4 200.0 H233.0 M226.4 210.6 H233.0 M243.5 218.0 V230.0 M240.2 218.0 H246.8 M240.2 230.0 H246.8 M257.3 230.0 V240.0 M254.0 230.0 H260.6 M254.0 240.0 H260.6 M271.0 248.3 V268.3 M267.7 248.3 H274.3 M267.7 268.3 H274.3 M284.8 253.3 V280.0 M281.5 253.3 H288.1 M281.5 280.0 H288.1 M298.6 266.7 V298.3 M295.3 266.7 H301.9 M295.3 298.3 H301.9 M312.3 279.2 V316.7 M309.0 279.2 H315.6 M309.0 316.7 H315.6 M326.1 288.3 V325.8 M322.8 288.3 H329.4 M322.8 325.8 H329.4 M339.8 287.5 V320.0 M336.5 287.5 H343.1 M336.5 320.0 H343.1 M353.6 319.0 V325.0 M350.3 319.0 H356.9 M350.3 325.0 H356.9 M367.4 276.7 V311.7 M364.1 276.7 H370.7 M364.1 311.7 H370.7 M381.1 302.8 V316.1 M377.8 302.8 H384.4 M377.8 316.1 H384.4 M394.9 298.7 V315.8 M391.6 298.7 H398.2 M391.6 315.8 H398.2 M408.7 308.3 V326.7 M405.4 308.3 H412.0 M405.4 326.7 H412.0 M422.4 323.7 V330.0 M419.1 323.7 H425.7 M419.1 330.0 H425.7 M436.2 322.5 V329.2 M432.9 322.5 H439.5 M432.9 329.2 H439.5 M450.0 324.7 V331.3 M446.7 324.7 H453.3 M446.7 331.3 H453.3 M463.7 331.7 V340.0 M460.4 331.7 H467.0 M460.4 340.0 H467.0 M477.5 332.5 V340.8 M474.2 332.5 H480.8 M474.2 340.8 H480.8 M491.2 335.3 V345.3 M487.9 335.3 H494.5 M487.9 345.3 H494.5" stroke="#ff0000" stroke-width="1"/>
<path d="M79.7 116.7 L81.1 114.4 L82.5 118.9 L83.9 120.3 L85.2 122.4 L86.6 123.1 L88.0 123.1 L89.4 123.0 L90.7 124.2 L92.1 125.0 L93.5 125.2 L94.9 124.6 L96.2 125.8 L97.6 126.4 L99.0 127.6 L100.4 130.2 L101.7 130.8 L103.1 130.9 L104.5 133.3 L105.9 134.0 L107.3 135.9 L108.6 138.3 L110.0 140.1 L111.4 142.1 L112.8 143.5 L114.1 144.8 L115.5 146.5 L116.9 147.7 L118.3 148.6 L119.6 149.8 L121.0 149.2 L122.4 150.7 L123.8 152.4 L125.1 153.2 L126.5 154.9 L127.9 156.7 L129.3 158.6 L130.6 159.1 L132.0 160.7 L133.4 160.8 L134.8 162.9 L136.2 162.6 L137.5 164.1 L138.9 164.1 L140.3 165.2 L141.7 166.3 L143.0 167.0 L144.4 168.4 L145.8 169.4 L147.2 170.0 L148.5 171.3 L149.9 172.1 L151.3 173.3 L152.7 173.0 L154.0 173.6 L155.4 174.6 L156.8 175.6 L158.2 174.9 L159.6 175.4 L160.9 175.4 L162.3 175.8 L163.7 175.0 L165.1 176.3 L166.4 176.4 L167.8 177.7 L169.2 178.0 L170.6 177.7 L171.9 177.7 L173.3 176.4 L174.7 177.4 L176.1 177.9 L177.4 179.3 L178.8 179.9 L180.2 180.4 L181.6 179.8 L182.9 180.1 L184.3 182.0 L185.7 181.9 L187.1 183.0 L188.5 182.7 L189.8 183.8 L191.2 183.4 L192.6 184.4 L194.0 185.9 L195.3 186.7 L196.7 187.8 L198.1 189.6 L199.5 187.9 L200.8 187.5 L202.2 188.6 L203.6 189.2 L205.0 190.2 L206.3 193.0 L207.7 192.7 L209.1 193.0 L210.5 194.1 L211.9 195.2 L213.2 196.0 L214.6 198.2 L216.0 201.0 L217.4 202.2 L218.7 203.2 L220.1 202.5 L221.5 203.2 L222.9 206.5 L224.2 210.2 L225.6 213.1 L227.0 218.0 L228.4 220.5 L229.7 221.9 L231.1 218.6 L232.5 221.0 L233.9 224.3 L235.2 226.8 L236.6 228.1 L238.0 230.4 L239.4 231.1 L240.8 228.7 L242.1 235.1 L243.5 237.9 L244.9 242.1 L246.3 244.8 L247.6 243.9 L249.0 242.7 L250.4 244.8 L251.8 241.7 L253.1 237.5 L254.5 243.9 L255.9 247.6 L257.3 250.8 L258.6 252.0 L260.0 252.0 L261.4 249.7 L262.8 250.7 L264.2 252.6 L265.5 257.5 L266.9 260.6 L268.3 263.9 L269.7 266.9 L271.0 268.6 L272.4 262.2 L273.8 259.0 L275.2 254.7 L276.5 252.3 L277.9 258.1 L279.3 260.3 L280.7 265.7 L282.0 269.7 L283.4 276.7 L284.8 273.2 L286.2 271.7 L287.5 272.9 L288.9 274.7 L290.3 273.7 L291.7 279.3 L293.1 282.4 L294.4 285.2 L295.8 290.2 L297.2 295.6 L298.6 302.2 L299.9 298.2 L301.3 308.1 L302.7 324.4 L304.1 324.1 L305.4 322.2 L306.8 321.9 L308.2 322.2 L309.6 321.2 L310.9 321.2 L312.3 321.7 L313.7 321.6 L315.1 321.9 L316.4 320.8 L317.8 320.1 L319.2 319.4 L320.6 319.0 L322.0 318.5 L323.3 317.6 L324.7 306.5 L326.1 304.3 L327.5 308.7 L328.8 310.2 L330.2 310.7 L331.6 311.6 L333.0 316.1 L334.3 316.7 L335.7 317.6 L337.1 316.6 L338.5 315.8 L339.8 315.9 L341.2 316.1 L342.6 315.7 L344.0 315.8 L345.4 316.5 L346.7 317.0 L348.1 317.0 L349.5 317.8 L350.9 317.3 L352.2 320.0 L353.6 313.4 L355.0 309.1 L356.4 321.7 L357.7 320.7 L359.1 319.8 L360.5 318.5 L361.9 318.1 L363.2 318.8 L364.6 318.2 L366.0 317.4 L367.4 319.1 L368.7 319.9 L370.1 320.1 L371.5 322.1 L372.9 323.4 L374.3 324.8 L375.6 324.1 L377.0 325.4 L378.4 325.4 L379.8 325.7 L381.1 325.3 L382.5 327.0 L383.9 326.4 L385.3 325.6 L386.6 326.7 L388.0 327.6 L389.4 326.9 L390.8 327.5 L392.1 327.5 L393.5 327.0 L394.9 325.4 L396.3 325.3 L397.7 324.5 L399.0 326.0 L400.4 327.4 L401.8 328.9 L403.2 330.2 L404.5 330.9 L405.9 330.8 L407.3 331.5 L408.7 330.9 L410.0 331.7 L411.4 332.2 L412.8 332.8 L414.2 333.2 L415.5 333.1 L416.9 334.0 L418.3 334.7 L419.7 339.2 L421.0 340.3 L422.4 340.9 L423.8 340.4 L425.2 340.9 L426.6 342.0 L427.9 342.4 L429.3 344.1 L430.7 344.3 L432.1 342.0 L433.4 342.9 L434.8 345.5 L436.2 343.8 L437.6 344.1 L438.9 344.8 L440.3 345.7 L441.7 346.0 L443.1 344.3 L444.4 343.5 L445.8 346.1 L447.2 346.8 L448.6 347.8 L450.0 351.8 L451.3 356.0 L452.7 354.8 L454.1 354.2 L455.5 355.0 L456.8 356.1 L458.2 357.7 L459.6 358.3 L461.0 358.4 L462.3 357.0 L463.7 356.6 L465.1 356.9 L466.5 356.8 L467.8 356.6 L469.2 357.2 L470.6 357.5 L472.0 356.8 L473.3 362.0 L474.7 364.2 L476.1 365.1 L477.5 367.7 L478.9 375.8 L480.2 376.4 L481.6 375.3 L483.0 381.4 L484.4 385.5 L485.7 393.1 L487.1 395.8 L488.5 403.3 L489.9 405.1 L491.2 404.5" stroke="#0000ff" stroke-width="2.00"/>
<path d="M92.1 123.0 V126.0 M88.8 123.0 H95.4 M88.8 126.0 H95.4 M105.9 130.0 V135.5 M102.6 130.0 H109.2 M102.6 135.5 H109.2 M119.6 146.0 V152.0 M116.3 146.0 H122.9 M116.3 152.0 H122.9 M133.4 158.0 V164.0 M130.1 158.0 H136.7 M130.1 164.0 H136.7 M147.2 167.5 V173.5 M143.9 167.5 H150.5 M143.9 173.5 H150.5 M160.9 173.0 V179.5 M157.6 173.0 H164.2 M157.6 179.5 H164.2 M174.7 174.5 V181.5 M171.4 174.5 H178.0 M171.4 181.5 H178.0 M188.5 180.0 V187.0 M185.2 180.0 H191.8 M185.2 187.0 H191.8 M202.2 187.8 V191.7 M198.9 187.8 H205.5 M198.9 191.7 H205.5 M216.0 194.1 V200.6 M212.7 194.1 H219.3 M212.7 200.6 H219.3 M229.7 214.2 V223.3 M226.4 214.2 H233.0 M226.4 223.3 H233.0 M243.5 232.5 V245.0 M240.2 232.5 H246.8 M240.2 245.0 H246.8 M257.3 240.0 V255.8 M254.0 240.0 H260.6 M254.0 255.8 H260.6 M271.0 261.7 V291.7 M267.7 261.7 H274.3 M267.7 291.7 H274.3 M284.8 261.7 V288.3 M281.5 261.7 H288.1 M281.5 288.3 H288.1 M298.6 290.0 V325.8 M295.3 290.0 H301.9 M295.3 325.8 H301.9 M312.3 316.7 V321.7 M309.0 316.7 H315.6 M309.0 321.7 H315.6 M326.1 298.3 V315.0 M322.8 298.3 H329.4 M322.8 315.0 H329.4 M339.8 319.2 V323.0 M336.5 319.2 H343.1 M336.5 323.0 H343.1 M353.6 305.8 V320.8 M350.3 305.8 H356.9 M350.3 320.8 H356.9 M367.4 317.5 V322.0 M364.1 317.5 H370.7 M364.1 322.0 H370.7 M381.1 323.3 V330.0 M377.8 323.3 H384.4 M377.8 330.0 H384.4 M394.9 325.8 V331.3 M391.6 325.8 H398.2 M391.6 331.3 H398.2 M408.7 327.5 V334.2 M405.4 327.5 H412.0 M405.4 334.2 H412.0 M422.4 331.7 V339.7 M419.1 331.7 H425.7 M419.1 339.7 H425.7 M436.2 337.5 V347.5 M432.9 337.5 H439.5 M432.9 347.5 H439.5 M450.0 345.8 V358.0 M446.7 345.8 H453.3 M446.7 358.0 H453.3 M463.7 350.8 V365.3 M460.4 350.8 H467.0 M460.4 365.3 H467.0 M477.5 360.3 V379.2 M474.2 360.3 H480.8 M474.2 379.2 H480.8 M491.2 390.3 V436.7 M487.9 390.3 H494.5 M487.9 436.7 H494.5" stroke="#0000ff" stroke-width="1"/>
</g>
<g stroke="#000" stroke-width="1" fill="none" stroke-linecap="round">
<rect x="63.3" y="63.0" width="444.7" height="397.8"/>
<path d="M78.35 460.8 V469.0"/>
<path d="M147.16 460.8 V469.0"/>
<path d="M215.98 460.8 V469.0"/>
<path d="M284.80 460.8 V469.0"/>
<path d="M353.61 460.8 V469.0"/>
<path d="M422.43 460.8 V469.0"/>
<path d="M491.24 460.8 V469.0"/>
<path d="M63.3 77.50 H55.1"/>
<path d="M63.3 138.97 H55.1"/>
<path d="M63.3 200.44 H55.1"/>
<path d="M63.3 261.91 H55.1"/>
<path d="M63.3 323.38 H55.1"/>
<path d="M63.3 384.85 H55.1"/>
<path d="M63.3 446.32 H55.1"/>
</g>
<rect x="63.3" y="306.7" width="156.1" height="154.1" fill="#fff" stroke="#000" stroke-width="1"/>
<path d="M75 322.40 H98" stroke="#000000" stroke-width="2" stroke-linecap="round" fill="none"/>
<text x="109.9" y="326.80" font-size="12.8px" class="t">Random</text>
<path d="M75 337.83 H98" stroke="#bebebe" stroke-width="2" stroke-linecap="round" fill="none"/>
<text x="109.9" y="342.23" font-size="12.8px" class="t">US</text>
<path d="M75 353.26 H98" stroke="#a020f0" stroke-width="2" stroke-linecap="round" fill="none"/>
<text x="109.9" y="357.66" font-size="12.8px" class="t">BQ</text>
<path d="M75 368.69 H98" stroke="#a52a2a" stroke-width="2" stroke-linecap="round" fill="none"/>
<text x="109.9" y="373.09" font-size="12.8px" class="t">BPT−UCB</text>
<path d="M75 384.12 H98" stroke="#ffa500" stroke-width="2" stroke-linecap="round" fill="none"/>
<text x="109.9" y="388.52" font-size="12.8px" class="t">BPT−UCB (fixed)</text>
<path d="M75 399.55 H98" stroke="#00ff00" stroke-width="2" stroke-linecap="round" fill="none"/>
<text x="109.9" y="403.95" font-size="12.8px" class="t">BBBMOBO</text>
<path d="M75 414.98 H98" stroke="#ffc0cb" stroke-width="2" stroke-linecap="round" fill="none"/>
<text x="109.9" y="419.38" font-size="12.8px" class="t">BBBMOBO (fixed)</text>
<path d="M75 430.41 H98" stroke="#ff0000" stroke-width="2" stroke-linecap="round" fill="none"/>
<text x="109.9" y="434.81" font-size="12.8px" class="t">Proposed</text>
<path d="M75 445.84 H98" stroke="#0000ff" stroke-width="2" stroke-linecap="round" fill="none"/>
<text x="109.9" y="450.24" font-size="12.8px" class="t">Proposed (fixed)</text>
<text x="78.35" y="489.3" font-size="19.2px" text-anchor="middle" class="t">0</text>
<text x="147.16" y="489.3" font-size="19.2px" text-anchor="middle" class="t">50</text>
<text x="215.98" y="489.3" font-size="19.2px" text-anchor="middle" class="t">100</text>
<text x="284.80" y="489.3" font-size="19.2px" text-anchor="middle" class="t">150</text>
<text x="353.61" y="489.3" font-size="19.2px" text-anchor="middle" class="t">200</text>
<text x="422.43" y="489.3" font-size="19.2px" text-anchor="middle" class="t">250</text>
<text x="491.24" y="489.3" font-size="19.2px" text-anchor="middle" class="t">300</text>
<text transform="translate(45.0 78.40) rotate(-90) scale(0.95 1.05)" font-size="19.2px" text-anchor="middle" class="t">1e+01</text>
<text transform="translate(45.0 201.34) rotate(-90) scale(0.95 1.05)" font-size="19.2px" text-anchor="middle" class="t">1e−01</text>
<text transform="translate(45.0 324.28) rotate(-90) scale(0.95 1.05)" font-size="19.2px" text-anchor="middle" class="t">1e−03</text>
<text transform="translate(45.0 447.22) rotate(-90) scale(0.95 1.05)" font-size="19.2px" text-anchor="middle" class="t">1e−05</text>
<text x="285.6" y="519.8" font-size="19.2px" text-anchor="middle" class="t">Iteration</text>
<text transform="translate(14.2 261.6) rotate(-90)" font-size="19.2px" text-anchor="middle" class="t">Regret</text>
<text x="285.2" y="37.7" font-size="19.3px" font-weight="bold" text-anchor="middle" class="t">4D synthetic function (EXP−MAE)</text>
</svg>
</body></html>
